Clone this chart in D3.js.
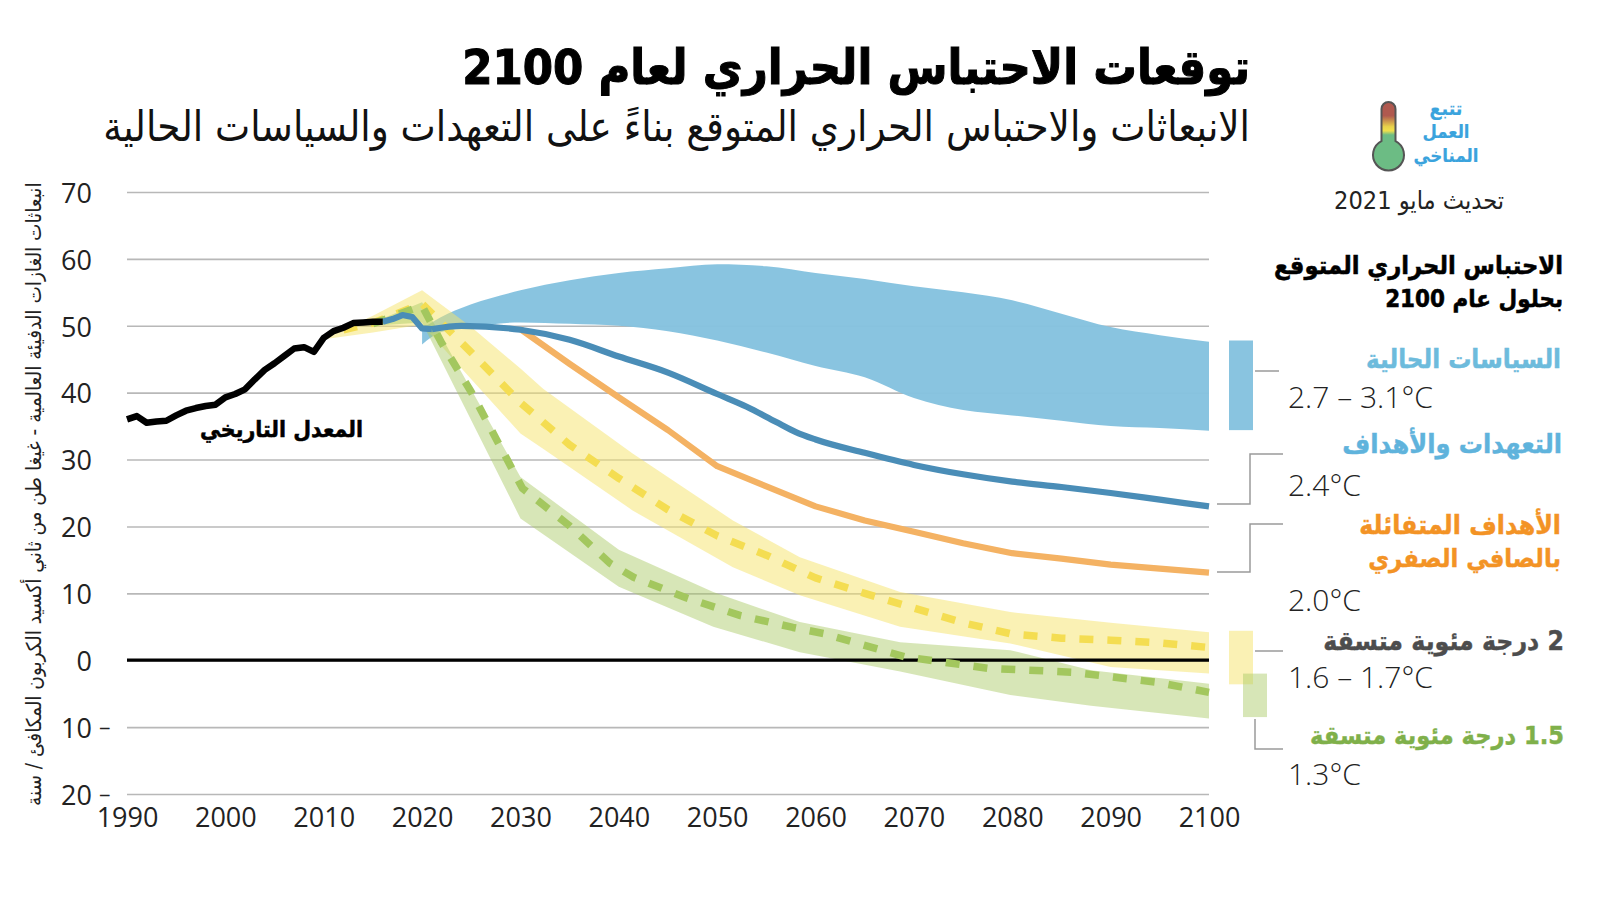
<!DOCTYPE html>
<html lang="ar"><head><meta charset="utf-8">
<script src="https://cdn.jsdelivr.net/npm/d3@7"></script>
<style>
html,body{margin:0;padding:0;background:#fff}
svg{display:block}
text{font-family:"DejaVu Sans Condensed","DejaVu Sans",sans-serif}
</style></head><body>
<svg id="c" width="1600" height="900"></svg>
<script>
const histYears=[1990,1991,1992,1993,1994,1995,1996,1997,1998,1999,2000,2001,2002,2003,2004,2005,2006,2007,2008,2009,2010,2011,2012,2013,2014,2015,2016];
const histVals=[36,36.5,35.5,35.7,35.8,36.6,37.3,37.7,38,38.2,39.3,39.8,40.5,42,43.4,44.4,45.5,46.6,46.8,46.1,48.2,49.2,49.7,50.4,50.5,50.6,50.6];

const bumpYears=[2016,2017,2018,2019,2020,2021];
const bumpVals=[50.6,51,51.6,51.3,49.6,49.5];
const pledgeYears=[2021,2024,2030,2035,2040,2045,2050,2053,2056,2058,2060,2065,2070,2075,2080,2085,2090,2095,2100];
const pledgeVals=[49.5,50,49.4,47.9,45.4,43,39.8,37.9,35.6,34.1,33,31,29.2,27.8,26.7,25.9,25,24,23];

const optimisticYears=[2030,2035,2040,2045,2050,2055,2060,2065,2070,2075,2080,2085,2090,2095,2100];
const optimisticVals=[49.5,44.3,39.3,34.4,29,26,23,20.9,19.2,17.5,16,15.2,14.3,13.7,13.1];

const policyYears=[2020,2021.8,2025,2030,2035,2040,2045,2050,2055,2060,2065,2070,2075,2080,2085,2090,2095,2100];
const policyHigh=[49.6,51.2,53.2,55.3,56.8,57.9,58.6,59.2,58.9,57.9,57,55.9,55,53.8,51.8,49.8,48.6,47.6];
const policyLow=[47.2,49,49.8,50.5,50.3,50,49.2,47.8,46,44,42.3,39.2,37.4,36.6,35.8,35,34.7,34.3];

const twoBandYears=[2010,2015,2020,2025,2030,2032.3,2041.4,2051.6,2058.4,2068.6,2079.8,2090,2100];
const twoHigh=[48.2,51.5,55.3,49.8,43.6,40.6,30.9,20.9,15.4,10.2,7.2,5.6,4.2];
const twoLow=[48,49,50.2,42,33.9,31.6,22.4,13.9,9.7,5,2.5,-1,-2];
const twoMidYears=[2012,2015,2020,2025,2030,2035,2040,2045,2050,2055,2060,2065,2070,2075,2080,2085,2090,2095,2100];
const twoMid=[49.4,50.4,53.3,46,38.5,32.2,27.2,22.5,18.6,15.7,12.3,10,7.8,5.6,3.9,3.3,3,2.6,1.9];

const oneFiveBandYears=[2015,2020,2030,2040,2049.6,2058.4,2068.6,2079.8,2088,2100];
const oneFiveHigh=[50.5,53.5,27.4,16.5,10.2,5.7,2.7,1.5,-1.5,-3.5];
const oneFiveLow=[50,50.5,21.2,11,5,1.2,-1.7,-5.2,-6.8,-8.7];
const oneFiveMidYears=[2015,2020,2022,2025,2027.6,2030.2,2034.9,2039.1,2041.5,2046.9,2052.3,2057.7,2060.8,2069.1,2077.5,2086.2,2094.7,2100];
const oneFiveMid=[50.3,53,47.4,40.1,32.9,25.7,20.2,14.5,12.4,9.3,6.7,4.9,4,0.5,-1.2,-1.8,-3.3,-4.8];

const endRanges=[{k:"policy",hi:47.8,lo:34.4},{k:"two",hi:4.4,lo:-3.6},{k:"onefive",hi:-2,lo:-8.5}];

const xTicks=d3.range(1990,2101,10);
const yTicks=d3.range(-20,71,10);

const titleText="توقعات الاحتباس الحراري لعام 2100";
const subtitleText="الانبعاثات والاحتباس الحراري المتوقع بناءً على التعهدات والسياسات الحالية";
const yTitle="انبعاثات الغازات الدفيئة العالمية - غيغا طن من ثاني أكسيد الكربون المكافئ / سنة";
const trackerLines=["تتبع","العمل","المناخي"];
const dateText="تحديث مايو 2021";
const histLabel="المعدل التاريخي";

const svg=d3.select("#c");
const x=d3.scaleLinear().domain([1990,2100]).range([127,1209]);
const y=d3.scaleLinear().domain([-20,70]).range([794,192]);
const NUM='"Open Sans",sans-serif';

const C={policy:"#85c2df",pledge:"#4a8db7",opt:"#f4b263",twoBand:"#f5e46a",two:"#f4dd52",oneBand:"#a9ca66",one:"#a3c75e",grid:"#b8b8b8",conn:"#9a9a9a"};

const gy=svg.append("g").attr("transform",`translate(${x(1990)},0)`)
  .call(d3.axisLeft(y).tickValues(yTicks).tickSize(-(x(2100)-x(1990))).tickPadding(35).tickFormat(d=>Math.abs(d)));
gy.select(".domain").remove();
gy.selectAll("line").attr("stroke",C.grid).attr("stroke-width",1.6);
gy.selectAll("text").attr("font-size",27).attr("fill","#222").attr("dy","0.38em").style("font-family",NUM);
gy.selectAll(".tick").filter(d=>d<0).append("text").attr("x",-27).attr("dy","0.35em").attr("fill","#222").attr("stroke","#222").attr("stroke-width",.8).attr("font-size",9.5)
  .style("font-family",NUM).attr("text-anchor","start").text("—");

const gx=svg.append("g").attr("transform",`translate(0,${y(-20)})`)
  .call(d3.axisBottom(x).tickValues(xTicks).tickSize(0).tickPadding(14).tickFormat(d3.format("d")));
gx.select(".domain").remove();
gx.selectAll("text").attr("font-size",27).attr("fill","#222").style("font-family",NUM);

function band(years,hi,lo,fill,op,curve){
  const a=d3.area().x((d,i)=>x(years[i])).y0((d,i)=>y(lo[i])).y1((d,i)=>y(hi[i])).curve(curve||d3.curveLinear);
  svg.append("path").attr("d",a(years)).attr("fill",fill).attr("fill-opacity",op);
}
band(policyYears,policyHigh,policyLow,C.policy,0.97,d3.curveMonotoneX);
band(twoBandYears,twoHigh,twoLow,C.twoBand,0.5);
band(oneFiveBandYears,oneFiveHigh,oneFiveLow,C.oneBand,0.47);

const barX={policy:[1229,1253,C.policy,0.97],two:[1229,1253,C.twoBand,0.5],onefive:[1243,1267,C.oneBand,0.47]};
svg.selectAll(".rng").data(endRanges).join("rect").attr("class","rng")
  .attr("x",d=>barX[d.k][0]).attr("width",d=>barX[d.k][1]-barX[d.k][0])
  .attr("y",d=>y(d.hi)).attr("height",d=>y(d.lo)-y(d.hi)).attr("fill",d=>barX[d.k][2]).attr("fill-opacity",d=>barX[d.k][3]);

svg.append("line").attr("x1",x(1990)).attr("x2",x(2100)).attr("y1",y(0)).attr("y2",y(0)).attr("stroke","#000").attr("stroke-width",3.2);

function line(years,vals,stroke,w,dash,curve){
  const l=d3.line().x((d,i)=>x(years[i])).y(d=>y(d)).curve(curve||d3.curveLinear);
  const p=svg.append("path").attr("d",l(vals)).attr("fill","none").attr("stroke",stroke).attr("stroke-width",w).attr("stroke-linejoin","round");
  if(dash)p.attr("stroke-dasharray",dash);
}
line(twoMidYears,twoMid,C.two,7.5,"14 14");
line(oneFiveMidYears,oneFiveMid,C.one,7.5,"14 14");
line(optimisticYears,optimisticVals,C.opt,6.2);
line(bumpYears,bumpVals,C.pledge,6.2);
line(pledgeYears,pledgeVals,C.pledge,6.2,null,d3.curveMonotoneX);
line(histYears,histVals,"#000",6.5);

const conn=[
 [[1255,371],[1279,371]],
 [[1217,504],[1250,504],[1250,454],[1283,454]],
 [[1217,572],[1250,572],[1250,524],[1283,524]],
 [[1255,651],[1283,651]],
 [[1255,719],[1255,749],[1283,749]]
];
conn.forEach(c=>svg.append("path").attr("d",d3.line()(c)).attr("fill","none").attr("stroke",C.conn).attr("stroke-width",1.5));

function ar(str,right,base,width,opts={}){
  const fill=opts.fill||"#000";
  const t=svg.append("text").attr("direction","rtl").attr("text-anchor",opts.anchor||"start").attr("x",right).attr("y",base)
    .attr("fill",fill).attr("font-weight",opts.weight||"bold").attr("font-size",40).text(str);
  const w=t.node().getComputedTextLength();
  t.attr("font-size",40*width/w);
  if(opts.stroke)t.attr("stroke",fill).attr("stroke-width",opts.stroke);
  return t;
}
ar(titleText,1250,84,788,{stroke:1});
ar(subtitleText,1250,141,1147,{weight:"normal",fill:"#111"});
ar(dateText,1504,209,170,{weight:"normal",fill:"#222"});
ar(histLabel,363,437,163,{stroke:.5});

ar("الاحتباس الحراري المتوقع",1563,274,289,{stroke:.5});
ar("بحلول عام 2100",1563,307,178,{stroke:.5});
ar("السياسات الحالية",1561,368,195,{fill:"#6dbbdc",stroke:.4});
ar("التعهدات والأهداف",1562,453,220,{fill:"#5fb3dc",stroke:.4});
ar("الأهداف المتفائلة",1561,534,202,{fill:"#f39325",stroke:.4});
ar("بالصافي الصفري",1561,567,193,{fill:"#f39325",stroke:.4});
ar("2 درجة مئوية متسقة",1564,650,241,{fill:"#4d4d4d",stroke:.4});
ar("1.5 درجة مئوية متسقة",1564,744,254,{fill:"#7fb04a",stroke:.4});

[["2.7 – 3.1°C",408],["2.4°C",496],["2.0°C",611],["1.6 – 1.7°C",688],["1.3°C",785]].forEach(([s,b])=>{
  svg.append("text").attr("x",1288).attr("y",b).attr("font-size",30).attr("font-weight",300).attr("fill","#222")
    .style("font-family",NUM).text(s);
});

const yt=svg.append("text").attr("direction","rtl").attr("text-anchor","end")
  .attr("transform","translate(41,806) rotate(-90)").attr("fill","#222").attr("font-size",20).text(yTitle);
const yw=yt.node().getComputedTextLength();
yt.attr("font-size",20*624/yw);

const defs=svg.append("defs");
const g=defs.append("linearGradient").attr("id","th").attr("x1",0).attr("x2",0).attr("y1",0).attr("y2",1);
[[0,"#b0594f"],[0.2,"#b0594f"],[0.36,"#e8d24a"],[0.42,"#f0e04c"],[0.48,"#6cbc84"],[1,"#6cbc84"]].forEach(([o,c])=>g.append("stop").attr("offset",o).attr("stop-color",c));
const thPath=d3.path();
thPath.moveTo(1381.5,141);thPath.lineTo(1381.5,109);thPath.arc(1388.5,109,7,Math.PI,0);thPath.lineTo(1395.5,141);
thPath.arc(1388.5,155,15.5,-Math.PI/2+0.47,-Math.PI/2-0.47+2*Math.PI);thPath.closePath();
svg.append("path").attr("d",thPath.toString()).attr("fill","url(#th)").attr("stroke","#555").attr("stroke-width",2);
trackerLines.forEach((s,i)=>{
  ar(s,1446,[115,138,162][i],[33,47,65][i],{anchor:"middle",fill:"#3aa3dd",stroke:.2});
});
</script>
</body></html>
